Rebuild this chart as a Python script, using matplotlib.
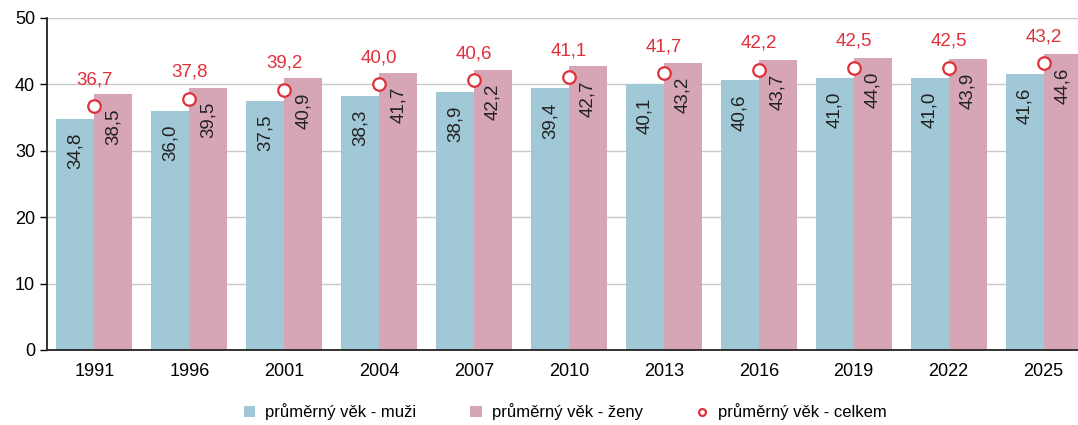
import numpy as np
import matplotlib.pyplot as plt

plt.rcParams['font.family'] = ['Liberation Sans', 'DejaVu Sans']

roky = ['1991', '1996', '2001', '2004', '2007', '2010', '2013', '2016', '2019', '2022', '2025']
muzi = [34.8, 36.0, 37.5, 38.3, 38.9, 39.4, 40.1, 40.6, 41.0, 41.0, 41.6]
zeny = [38.5, 39.5, 40.9, 41.7, 42.2, 42.7, 43.2, 43.7, 44.0, 43.9, 44.6]
celkem = [36.7, 37.8, 39.2, 40.0, 40.6, 41.1, 41.7, 42.2, 42.5, 42.5, 43.2]

barva_m = '#a0c8d6'
barva_z = '#d6a6b6'
cervena = '#e0303c'

def fmt(v):
    return f'{v:.1f}'.replace('.', ',')

fig = plt.figure(figsize=(10.78, 4.25), dpi=100)
ax = fig.add_axes([47 / 1078, 1 - 350 / 425, 1044 / 1078, 332 / 425])

x = np.arange(len(roky))
w = 0.4
ax.bar(x - w / 2, muzi, w, color=barva_m, label='průměrný věk - muži', zorder=2)
ax.bar(x + w / 2, zeny, w, color=barva_z, label='průměrný věk - ženy', zorder=2)
ax.plot(x, celkem, 'o', ms=9, mfc='white', mec=cervena, mew=1.6, ls='none',
        label='průměrný věk - celkem', zorder=4)

for i in range(len(roky)):
    ax.annotate(fmt(muzi[i]), (x[i] - w / 2, muzi[i]), xytext=(0, -10), textcoords='offset points',
                rotation=90, ha='center', va='top', fontsize=13.5, color='#222222', zorder=3)
    ax.annotate(fmt(zeny[i]), (x[i] + w / 2, zeny[i]), xytext=(0, -10), textcoords='offset points',
                rotation=90, ha='center', va='top', fontsize=13.5, color='#222222', zorder=3)
    ax.annotate(fmt(celkem[i]), (x[i], celkem[i]), xytext=(0, 13), textcoords='offset points',
                ha='center', va='bottom', fontsize=13.5, color=cervena, zorder=5)

ax.set_xlim(-0.5, len(roky) - 0.5)
ax.set_ylim(0, 50)
ax.set_yticks(range(0, 51, 10))
ax.set_xticks(x)
ax.set_xticklabels(roky)
ax.tick_params(axis='x', length=0, pad=9, labelsize=13)
ax.tick_params(axis='y', length=5, width=1, labelsize=13)
ax.yaxis.grid(True, color='#c8c8c8', lw=1, zorder=0)
ax.set_axisbelow(True)
for s in ['top', 'right']:
    ax.spines[s].set_visible(False)
ax.spines['left'].set_color('#222222')
ax.spines['bottom'].set_color('#222222')
ax.spines['left'].set_linewidth(1.3)
ax.spines['bottom'].set_linewidth(1.3)

h, l = ax.get_legend_handles_labels()
poradi = [1, 2, 0]
fig.legend([h[k] for k in poradi], [l[k] for k in poradi], loc='center',
           bbox_to_anchor=(565 / 1078, 1 - 412 / 425), ncol=3,
           frameon=False, fontsize=12, handlelength=0.7, handleheight=0.7,
           columnspacing=3.2, handletextpad=0.6, markerscale=0.55)

fig.savefig('out.png', dpi=100)
